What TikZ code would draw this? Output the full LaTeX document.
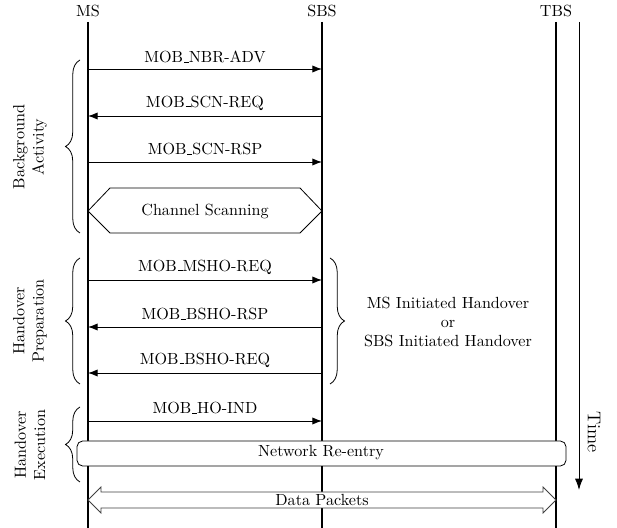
\documentclass[tikz,border=0pt]{standalone}
\usetikzlibrary{arrows.meta,decorations.pathreplacing}
\newcommand\usc{\leavevmode\kern.06em\vbox{\hrule width.3em}}
\begin{document}
\begin{tikzpicture}[x=0.62pt,y=-0.62pt,
  font=\fontsize{10}{12}\selectfont,
  lifeline/.style={line width=1.2pt},
  msgarrow/.style={line width=0.55pt,-{Latex[length=6pt,width=4.5pt]}},
  msglabel/.style={inner sep=0pt},
  grpbrace/.style={decorate,decoration={brace,amplitude=9pt},line width=0.5pt},
  grplabel/.style={align=center,rotate=90,inner sep=0pt},
  phasebox/.style={draw,line width=0.5pt,fill=white}]
\useasboundingbox (0,0) rectangle (617,528);
% lifelines
\node (MS) at (88,11) {MS};
\node (SBS) at (322,11) {SBS};
\node (TBS) at (556,11) {TBS};
\coordinate (MSb) at (88,528);
\coordinate (SBSb) at (322,528);
\coordinate (TBSb) at (556,528);
\draw[lifeline] (88,22) -- (MSb);
\draw[lifeline] (322,22) -- (SBSb);
\draw[lifeline] (556,22) -- (TBSb);
% time arrow
\coordinate (t0) at (579,22);
\coordinate (t1) at (579,490);
\draw[line width=0.55pt,-{Latex[length=7pt,width=5pt]}] (t0) -- (t1);
\node[rotate=-90,inner sep=0pt,font=\fontsize{11.5}{13}\selectfont] (time) at (594,432) {Time};
% message end points
\foreach \n/\y in {1/69,2/116,3/162,4/280,5/327,6/373,7/421}{
  \coordinate (a\n) at (88,\y);
  \coordinate (b\n) at (322,\y);
}
\draw[msgarrow] (a1) -- (b1);
\draw[msgarrow] (b2) -- (a2);
\draw[msgarrow] (a3) -- (b3);
\draw[msgarrow] (a4) -- (b4);
\draw[msgarrow] (b5) -- (a5);
\draw[msgarrow] (b6) -- (a6);
\draw[msgarrow] (a7) -- (b7);
\node[msglabel] (m1) at (205,57) {MOB\usc NBR-ADV};
\node[msglabel] (m2) at (205,103) {MOB\usc SCN-REQ};
\node[msglabel] (m3) at (205,149) {MOB\usc SCN-RSP};
\node[msglabel] (m4) at (205,267) {MOB\usc MSHO-REQ};
\node[msglabel] (m5) at (205,314) {MOB\usc BSHO-RSP};
\node[msglabel] (m6) at (205,360) {MOB\usc BSHO-REQ};
\node[msglabel] (m7) at (205,408) {MOB\usc HO-IND};
% channel scanning
\draw[phasebox] (88,211) -- (110,188) -- (300,188) -- (322,211) -- (300,233) -- (110,233) -- cycle;
\node (cs) at (205,211) {Channel Scanning};
% network re-entry
\draw[phasebox,rounded corners=3.5pt] (77,441) rectangle (566,466);
\node (nr) at (321,453) {Network Re-entry};
% data packets
\draw[line width=0.5pt,draw=black!75,fill=white] (88,500) -- (101,487) -- (101,492) -- (543,492) -- (543,487) -- (556,500) -- (543,513) -- (543,508) -- (101,508) -- (101,513) -- cycle;
\node (dp) at (322,500) {Data Packets};
% braces
\draw[grpbrace] (80,233) -- (80,60);
\node[grplabel] (bg) at (30,147) {Background\\Activity};
\draw[grpbrace] (80,384) -- (80,258);
\node[grplabel] (hp) at (30,321) {Handover\\Preparation};
\draw[grpbrace] (80,482) -- (80,407);
\node[grplabel] (he) at (30,445) {Handover\\Execution};
\draw[grpbrace] (330,258) -- (330,384);
\node[align=center,inner sep=0pt] (init) at (448,322) {MS Initiated Handover\\or\\SBS Initiated Handover};
\end{tikzpicture}
\end{document}
